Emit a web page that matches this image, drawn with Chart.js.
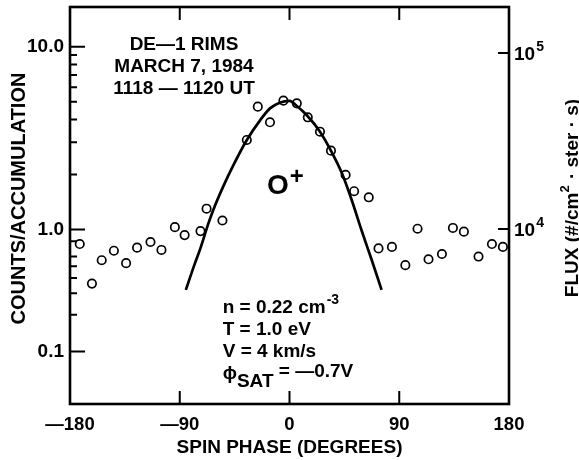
<!DOCTYPE html>
<html><head><meta charset="utf-8">
<script src="https://cdn.jsdelivr.net/npm/chart.js@4.4.0/dist/chart.umd.min.js"></script>
<style>html,body{margin:0;padding:0;background:#fff;}canvas{display:block;}</style>
</head><body>
<canvas id="c" width="579" height="460"></canvas>
<script>
// ---- data ----
const phaseDeg = [-172, -162, -154, -144, -134, -125, -114, -105, -94, -86, -73, -68, -55,
  -35, -26, -16, -5, 6, 15, 25, 34, 46, 53, 65, 73, 84, 95, 105, 114, 125, 134, 143, 155, 166, 175];
const counts = [0.76, 0.36, 0.56, 0.67, 0.53, 0.71, 0.79, 0.68, 1.03, 0.90, 0.97, 1.30, 1.12,
  3.09, 4.70, 3.86, 5.07, 4.90, 4.11, 3.43, 2.70, 1.99, 1.62, 1.50, 0.70, 0.72, 0.51, 1.01, 0.57, 0.63, 1.02, 0.96, 0.60, 0.76, 0.72];
const fitPhaseDeg = [-85, -77.5, -73.5, -66.5, -62.5, -54.5, -46, -35, -24, -16, -8, 0, 6, 14, 25, 34.5, 43, 51, 59, 67.5, 75.5];
const fitCounts = [0.32, 0.53, 0.68, 1.08, 1.28, 1.71, 2.25, 3.09, 3.97, 4.60, 4.94, 5.05, 4.74, 4.23, 3.43, 2.66, 2.03, 1.45, 0.99, 0.56, 0.32];

const xTickValues = [-180, -90, 0, 90, 180];
const xTickLabels = ['\u2014180', '\u201490', '0', '90', '180'];
const yTickValues = [0.1, 0.2, 0.3, 0.4, 0.5, 0.6, 0.8, 1, 2, 3, 4, 5, 6, 7, 8, 9, 10];
const yMajorValues = [0.1, 1, 10];
const yMajorLabels = ['0.1', '1.0', '10.0'];
const fluxTickValues = [1e4, 1e5];
const fluxTickBase = ['10', '10'];
const fluxTickExp = ['4', '5'];

// ---- scale settings ----
const Y_MIN = 0.0371, Y_MAX = 16.5;
const FLUX_MIN = 1013, FLUX_MAX = 182600;
const LOWER_DECADE_RATIO = 122 / 182.8; // the figure's decade below 1.0 is drawn shorter
const FONT = '"Liberation Sans", "DejaVu Sans", Arial, sans-serif';
const INK = '#000';

class SplitLogScale extends Chart.LogarithmicScale {
  _tf(v) { const l = Math.log10(v); return l >= 0 ? l : l * LOWER_DECADE_RATIO; }
  getPixelForValue(value) {
    if (value === undefined || value === 0) value = this.min;
    if (value === null || isNaN(value)) return NaN;
    const a = this._tf(this.min), b = this._tf(this.max);
    return this.getPixelForDecimal((this._tf(value) - a) / (b - a));
  }
  getValueForPixel(pixel) {
    const a = this._tf(this.min), b = this._tf(this.max);
    const t = a + this.getDecimalForPixel(pixel) * (b - a);
    return Math.pow(10, t >= 0 ? t : t / LOWER_DECADE_RATIO);
  }
}
SplitLogScale.id = 'splitlog';
Chart.register(SplitLogScale);

function font(size) { return `bold ${size}px ${FONT}`; }
function drawRuns(ctx, x, y, parts) {
  ctx.textAlign = 'left';
  for (const p of parts) {
    ctx.font = font(p.s);
    ctx.fillText(p.t, x, y + (p.dy || 0));
    x += ctx.measureText(p.t).width + (p.gap || 0);
  }
  return x;
}
function runsWidth(ctx, parts) {
  let w = 0;
  for (const p of parts) { ctx.font = font(p.s); w += ctx.measureText(p.t).width + (p.gap || 0); }
  return w;
}

const figurePlugin = {
  id: 'figure',
  afterDatasetsDraw(chart) {
    const ctx = chart.ctx, a = chart.chartArea;
    const xs = chart.scales.x, ys = chart.scales.y, fs = chart.scales.y2;
    ctx.save();
    ctx.strokeStyle = INK; ctx.fillStyle = INK; ctx.lineCap = 'butt';
    // ticks
    ctx.lineWidth = 2;
    ctx.beginPath();
    ys.ticks.forEach(t => {
      const py = ys.getPixelForValue(t.value);
      const len = yMajorValues.includes(t.value) ? 15 : 7;
      ctx.moveTo(a.left, py); ctx.lineTo(a.left + len, py);
    });
    xTickValues.forEach(v => {
      if (v <= -180 || v >= 180) return;
      const px = xs.getPixelForValue(v);
      ctx.moveTo(px, a.bottom); ctx.lineTo(px, a.bottom - 13);
      ctx.moveTo(px, a.top); ctx.lineTo(px, a.top + 13);
    });
    fluxTickValues.forEach(v => {
      const py = fs.getPixelForValue(v);
      ctx.moveTo(a.right, py); ctx.lineTo(a.right - 11, py);
    });
    ctx.stroke();
    // frame
    ctx.lineWidth = 2.6;
    ctx.strokeRect(a.left, a.top, a.right - a.left, a.bottom - a.top);

    // right axis labels
    ctx.textBaseline = 'alphabetic';
    fluxTickValues.forEach((v, i) => {
      const py = fs.getPixelForValue(v);
      drawRuns(ctx, a.right + 5, py + 7, [
        { t: fluxTickBase[i], s: 19, gap: 1 },
        { t: fluxTickExp[i], s: 14, dy: -9 }
      ]);
    });

    // left axis title
    ctx.save();
    ctx.translate(25, 198.5); ctx.rotate(-Math.PI / 2);
    ctx.font = font(20); ctx.textAlign = 'center';
    ctx.fillText('COUNTS/ACCUMULATION', 0, 0);
    ctx.restore();

    // right axis title
    ctx.save();
    ctx.translate(578, 198); ctx.rotate(-Math.PI / 2);
    const rt = [
      { t: 'FLUX (#/cm', s: 19 },
      { t: '2', s: 13, dy: -9, gap: 1 },
      { t: ' \u00b7 ster \u00b7 s)', s: 19 }
    ];
    drawRuns(ctx, -runsWidth(ctx, rt) / 2, 0, rt);
    ctx.restore();

    // header block
    ctx.font = font(19); ctx.textAlign = 'center';
    ctx.fillText('DE\u20141 RIMS', 184, 50);
    ctx.fillText('MARCH 7, 1984', 184, 72);
    ctx.fillText('1118 \u2014 1120 UT', 184, 94);

    // species
    drawRuns(ctx, 267, 193.5, [
      { t: 'O', s: 28, gap: 1 },
      { t: '+', s: 24, dy: -10 }
    ]);

    // parameters
    drawRuns(ctx, 222.7, 313, [
      { t: 'n = 0.22 cm', s: 19, gap: 1 },
      { t: '-3', s: 14, dy: -9 }
    ]);
    drawRuns(ctx, 222.7, 335, [{ t: 'T = 1.0 eV', s: 19 }]);
    drawRuns(ctx, 222.7, 357, [{ t: 'V = 4 km/s', s: 19 }]);
    drawRuns(ctx, 222.7, 379, [
      { t: '\u03d5', s: 19 },
      { t: 'SAT', s: 19, dy: 8 },
      { t: ' = \u20140.7V', s: 19, dy: -2 }
    ]);
    ctx.restore();
  }
};

new Chart(document.getElementById('c'), {
  type: 'scatter',
  data: {
    datasets: [
      {
        label: 'fit',
        data: fitPhaseDeg.map((x, i) => ({ x, y: fitCounts[i] })),
        showLine: true, borderColor: INK, borderWidth: 2.7, pointRadius: 0,
        cubicInterpolationMode: 'monotone', fill: false, yAxisID: 'y'
      },
      {
        label: 'observed',
        data: phaseDeg.map((x, i) => ({ x, y: counts[i] })),
        showLine: false, pointRadius: 4.2, pointBorderWidth: 1.7,
        pointBorderColor: INK, pointBackgroundColor: 'rgba(0,0,0,0)', yAxisID: 'y'
      }
    ]
  },
  options: {
    responsive: false, animation: false, devicePixelRatio: 1,
    layout: { padding: { top: 7, left: 0, right: 0, bottom: 0 } },
    plugins: { legend: { display: false }, tooltip: { enabled: false } },
    scales: {
      x: {
        type: 'linear', position: 'bottom', min: -180, max: 180,
        afterBuildTicks: s => { s.ticks = xTickValues.map(v => ({ value: v })); },
        afterFit: s => { s.height = 56; s.paddingLeft = 0; s.paddingRight = 0; },
        ticks: {
          autoSkip: false, maxRotation: 0, padding: 10, color: INK,
          font: { family: FONT, size: 18.5, weight: 'bold' },
          callback: v => xTickLabels[xTickValues.indexOf(v)]
        },
        title: {
          display: true, text: 'SPIN PHASE (DEGREES)', color: INK,
          font: { family: FONT, size: 19, weight: 'bold' }, padding: { top: 0, bottom: 1 }
        },
        grid: { display: false, drawTicks: false }, border: { display: false }
      },
      y: {
        type: 'splitlog', position: 'left', min: Y_MIN, max: Y_MAX,
        afterBuildTicks: s => { s.ticks = yTickValues.map(v => ({ value: v, major: yMajorValues.includes(v) })); },
        afterFit: s => { s.width = 70; s.paddingTop = 0; s.paddingBottom = 0; },
        ticks: {
          autoSkip: false, padding: 6, color: INK,
          font: { family: FONT, size: 19, weight: 'bold' },
          callback: v => { const i = yMajorValues.indexOf(v); return i >= 0 ? yMajorLabels[i] : ''; }
        },
        grid: { display: false, drawTicks: false }, border: { display: false }
      },
      y2: {
        type: 'logarithmic', position: 'right', min: FLUX_MIN, max: FLUX_MAX,
        afterBuildTicks: s => { s.ticks = fluxTickValues.map(v => ({ value: v })); },
        afterFit: s => { s.width = 70; s.paddingTop = 0; s.paddingBottom = 0; },
        ticks: { display: false },
        grid: { display: false, drawTicks: false }, border: { display: false }
      }
    }
  },
  plugins: [figurePlugin]
});
</script>
</body></html>
